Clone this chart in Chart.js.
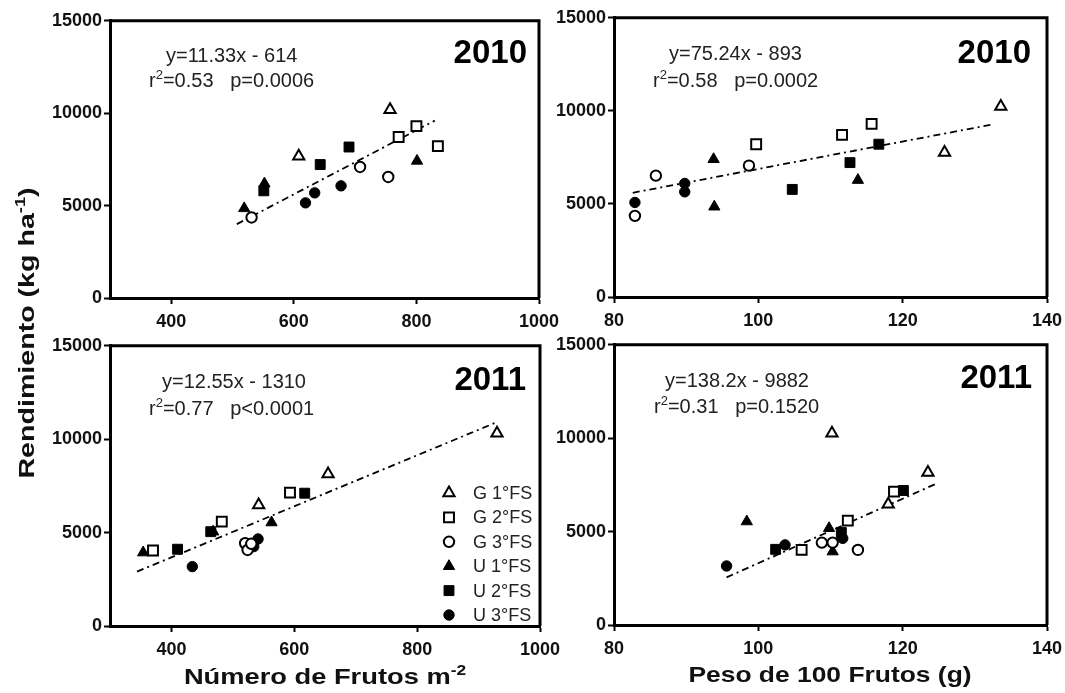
<!DOCTYPE html>
<html>
<head>
<meta charset="utf-8">
<script src="https://cdn.jsdelivr.net/npm/chart.js@4"></script>
<style>
  html, body { margin: 0; padding: 0; background: #fff; }
  body { width: 1065px; height: 693px; position: relative; overflow: hidden; font-family: "Liberation Sans", Arial, sans-serif; color: #000; }
  canvas { position: absolute; }
  .txt { position: absolute; white-space: pre; line-height: 1; }
  .eq { font-size: 20px; color: #222; }
  .eq sup { font-size: 13px; vertical-align: 8px; line-height: 0; }
  .year { font-size: 33px; font-weight: bold; }
  .axt { font-size: 22px; font-weight: bold; text-align: center; width: 400px; color: #111; }
  .axt sup { font-size: 14px; vertical-align: 9px; line-height: 0; }
</style>
</head>
<body>
<canvas id="c1"></canvas>
<canvas id="c2"></canvas>
<canvas id="c3"></canvas>
<canvas id="c4"></canvas>

<div class="txt eq" style="left:166px;top:45px">y=11.33x - 614</div>
<div class="txt eq" style="left:149px;top:70px">r<sup>2</sup>=0.53   p=0.0006</div>
<div class="txt year" style="right:538px;top:35px">2010</div>

<div class="txt eq" style="left:669px;top:43px">y=75.24x - 893</div>
<div class="txt eq" style="left:653px;top:70px">r<sup>2</sup>=0.58   p=0.0002</div>
<div class="txt year" style="right:34px;top:35px">2010</div>

<div class="txt eq" style="left:162px;top:371px">y=12.55x - 1310</div>
<div class="txt eq" style="left:149px;top:398px">r<sup>2</sup>=0.77   p&lt;0.0001</div>
<div class="txt year" style="right:539px;top:362px">2011</div>

<div class="txt eq" style="left:665px;top:370px">y=138.2x - 9882</div>
<div class="txt eq" style="left:654px;top:396px">r<sup>2</sup>=0.31   p=0.1520</div>
<div class="txt year" style="right:33px;top:360px">2011</div>

<div class="txt axt" style="left:125px;top:666px;transform:scaleX(1.24)">Número de Frutos m<sup>-2</sup></div>
<div class="txt axt" style="left:630px;top:664px;transform:scaleX(1.2)">Peso de 100 Frutos (g)</div>
<div class="txt axt" style="left:-173px;top:322px;transform:rotate(-90deg) scaleX(1.3)">Rendimiento (kg ha<sup>-1</sup>)</div>

<script>
// groups: G / U, first to third fruit set (1°FS..3°FS)
const groups = ['G 1°FS', 'G 2°FS', 'G 3°FS', 'U 1°FS', 'U 2°FS', 'U 3°FS'];
const groupStyles = ['triangle', 'rect', 'circle', 'triangle', 'rect', 'circle'];
const groupFilled = [false, false, false, true, true, true];

const yTicks = [0, 5000, 10000, 15000];
const frutosTicks = [400, 600, 800, 1000];
const pesoTicks = [80, 100, 120, 140];

// yield vs fruits per m2, 2010  ([x, y] per group)
const frutos2010 = [
  [[757, 10180], [608, 7670]],
  [[800, 9300], [771, 8710], [835, 8220]],
  [[531, 4360], [708, 7090], [754, 6550]],
  [[519, 4850], [552, 6190], [801, 7420]],
  [[551, 5800], [643, 7220], [690, 8170]],
  [[619, 5150], [634, 5690], [677, 6070]]
];
const frutos2010Fit = [[507, 4000], [830, 9600]];

// yield vs weight of 100 fruits, 2010
const peso2010 = [
  [[133.6, 10230], [125.8, 7760]],
  [[99.7, 8210], [111.6, 8710], [115.7, 9300]],
  [[82.9, 4360], [85.8, 6520], [98.7, 7060]],
  [[93.8, 7400], [93.9, 4850], [113.8, 6280]],
  [[104.7, 5780], [112.7, 7220], [116.7, 8210]],
  [[82.9, 5080], [89.8, 6100], [89.8, 5650]]
];
const peso2010Fit = [[82.6, 5600], [132.6, 9280]];

// yield vs fruits per m2, 2011
const frutos2011 = [
  [[542, 6480], [655, 8140], [930, 10320]],
  [[370, 4040], [482, 5590], [593, 7140]],
  [[520, 4430], [524, 4070], [530, 4400]],
  [[354, 3930], [468, 5050], [563, 5540]],
  [[410, 4110], [464, 5050], [617, 7110]],
  [[434, 3180], [534, 4250], [541, 4660]]
];
const frutos2011Fit = [[344, 2910], [926, 10860]];

// yield vs weight of 100 fruits, 2011
const peso2011 = [
  [[110.2, 10270], [123.5, 8160], [118.0, 6460]],
  [[106.0, 4020], [112.4, 5590], [118.8, 7140]],
  [[108.8, 4410], [110.3, 4410], [113.8, 4020]],
  [[98.4, 5540], [109.8, 5180], [110.3, 3930]],
  [[102.4, 4050], [111.5, 4950], [120.1, 7200]],
  [[95.6, 3160], [103.7, 4290], [111.7, 4640]]
];
const peso2011Fit = [[95.6, 2550], [124.5, 7540]];

Chart.defaults.font.family = '"Liberation Sans", Arial, sans-serif';
Chart.defaults.color = '#000';

const radiusFor = { triangle: 6.5, rect: 7, circle: 5.2 };

function pointOpts(i) {
  const style = groupStyles[i];
  return {
    pointStyle: style,
    pointRadius: radiusFor[style],
    pointBackgroundColor: groupFilled[i] ? '#000' : '#fff',
    pointBorderColor: '#000',
    pointBorderWidth: groupFilled[i] ? 1 : 2
  };
}

function buildDatasets(series, fit) {
  const sets = series.map((pts, i) => Object.assign({
    label: groups[i],
    data: pts.map(p => ({ x: p[0], y: p[1] })),
    order: 1
  }, pointOpts(i)));
  sets.push({
    label: 'fit',
    data: fit.map(p => ({ x: p[0], y: p[1] })),
    showLine: true,
    pointRadius: 0,
    borderColor: '#000',
    borderWidth: 1.8,
    borderDash: [7, 4, 2, 4],
    order: 5
  });
  return sets;
}

// closes the box on top and right
const frame = {
  id: 'frame',
  afterDraw(chart) {
    const { ctx, chartArea: a } = chart;
    ctx.save();
    ctx.strokeStyle = '#000';
    ctx.lineWidth = 3;
    ctx.beginPath();
    ctx.moveTo(a.left, a.top);
    ctx.lineTo(a.right, a.top);
    ctx.lineTo(a.right, a.bottom);
    ctx.stroke();
    ctx.restore();
  }
};

// symbol key in the lower right corner
const keyBox = {
  id: 'keyBox',
  afterDraw(chart) {
    if (!chart.options.plugins.keyBox || !chart.options.plugins.keyBox.show) return;
    const { ctx, chartArea: a } = chart;
    const sx = a.right - 91, tx = a.right - 67;
    const rowH = 24.4;
    const y0 = a.bottom - 11 - 5 * rowH;
    ctx.save();
    ctx.font = '18px "Liberation Sans", Arial, sans-serif';
    ctx.textBaseline = 'middle';
    groups.forEach((g, i) => {
      const o = pointOpts(i);
      const y = y0 + i * rowH;
      ctx.fillStyle = o.pointBackgroundColor;
      ctx.strokeStyle = o.pointBorderColor;
      ctx.lineWidth = o.pointBorderWidth;
      Chart.helpers.drawPoint(ctx, { pointStyle: o.pointStyle, radius: o.pointRadius, rotation: 0, borderWidth: o.pointBorderWidth }, sx, y);
      ctx.fillStyle = '#222';
      ctx.fillText(g, tx, y + 1);
    });
    ctx.restore();
  }
};

function makePanel(id, box, series, fit, xMin, xMax, xTicks, showKey) {
  const yAxisW = 72, padTop = 12, xAxisH = 40, padRight = 30;
  const canvas = document.getElementById(id);
  const w = (box.right - box.left) + yAxisW + padRight;
  const h = (box.bottom - box.top) + padTop + xAxisH;
  canvas.width = w;
  canvas.height = h;
  canvas.style.left = (box.left - yAxisW) + 'px';
  canvas.style.top = (box.top - padTop) + 'px';

  const tickFont = { size: 18, weight: 'bold' };
  new Chart(canvas.getContext('2d'), {
    type: 'scatter',
    data: { datasets: buildDatasets(series, fit) },
    options: {
      responsive: false,
      animation: false,
      devicePixelRatio: 1,
      layout: { padding: { left: 0, top: padTop, right: padRight, bottom: 0 } },
      plugins: {
        legend: { display: false },
        tooltip: { enabled: false },
        keyBox: { show: showKey }
      },
      scales: {
        x: {
          type: 'linear',
          min: xMin,
          max: xMax,
          afterBuildTicks: s => { s.ticks = xTicks.map(v => ({ value: v })); },
          afterFit: s => { s.height = xAxisH; },
          ticks: { font: tickFont, color: '#111', padding: 7, autoSkip: false, maxRotation: 0, callback: v => String(v) },
          grid: { drawOnChartArea: false, drawTicks: true, tickLength: 6, tickWidth: 2, color: '#000' },
          border: { display: true, width: 3, color: '#000' }
        },
        y: {
          min: 0,
          max: 15000,
          afterBuildTicks: s => { s.ticks = yTicks.map(v => ({ value: v })); },
          afterFit: s => { s.width = yAxisW; },
          ticks: { font: tickFont, color: '#111', padding: 2, callback: v => String(v) },
          grid: { drawOnChartArea: false, drawTicks: true, tickLength: 6, tickWidth: 2, color: '#000' },
          border: { display: true, width: 3, color: '#000' }
        }
      }
    },
    plugins: [frame, keyBox]
  });
}

makePanel('c1', { left: 110, right: 539, top: 20, bottom: 298 }, frutos2010, frutos2010Fit, 300, 1000, frutosTicks, false);
makePanel('c2', { left: 614, right: 1047, top: 17, bottom: 297 }, peso2010, peso2010Fit, 80, 140, pesoTicks, false);
makePanel('c3', { left: 110, right: 540, top: 345, bottom: 626 }, frutos2011, frutos2011Fit, 300, 1000, frutosTicks, true);
makePanel('c4', { left: 614, right: 1047, top: 344, bottom: 625 }, peso2011, peso2011Fit, 80, 140, pesoTicks, false);
</script>
</body>
</html>
